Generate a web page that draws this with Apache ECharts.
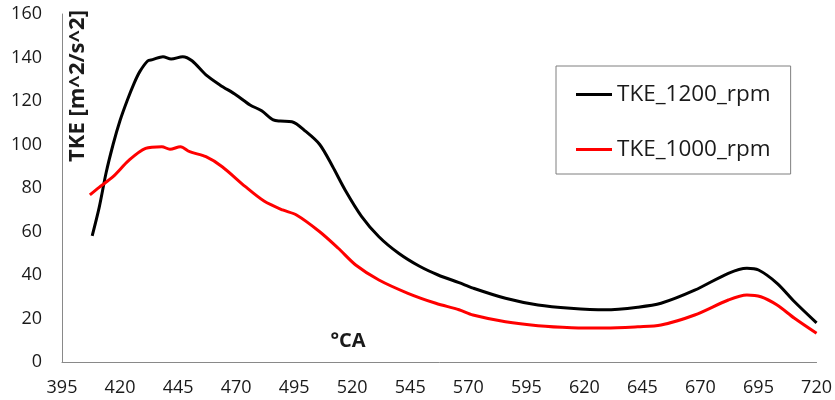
<!DOCTYPE html>
<html>
<head>
<meta charset="utf-8">
<script src="https://cdn.jsdelivr.net/npm/echarts@6/dist/echarts.min.js"></script>
<style>
html,body{margin:0;padding:0;background:#fff;}
#chart{width:835px;height:400px;}
</style>
</head>
<body>
<div id="chart"></div>
<script>
const seriesNames = ['TKE_1200_rpm', 'TKE_1000_rpm'];
const xTicks = [395, 420, 445, 470, 495, 520, 545, 570, 595, 620, 645, 670, 695, 720];
const yTicks = [0, 20, 40, 60, 80, 100, 120, 140, 160];

const ca1200 = [408, 411, 414, 417, 420, 423, 426, 428.5, 432, 434, 438.5, 442, 447, 451, 457, 463, 470, 476, 481, 486, 489, 494, 500, 506, 511.5, 517, 524, 531.5, 540, 549, 557, 566, 572, 586, 600, 614, 629, 643, 653, 667.5, 682, 690, 695, 703, 710.5, 720];
const tke1200 = [58, 71, 87, 100, 111, 120, 128, 133.5, 138.5, 139, 140.4, 139.3, 140.4, 138.5, 132, 127.4, 122.8, 118.2, 115.5, 111.3, 110.8, 110.5, 106, 100, 90, 79, 67, 57.6, 50, 44, 40, 36.5, 34, 29.3, 26.2, 24.7, 24, 25.2, 27, 33, 40.8, 43.1, 42.3, 36.2, 27.7, 18];

const ca1000 = [407, 411, 417, 424, 431, 438, 441.5, 446, 450, 457, 464, 474, 482, 490, 496, 506, 514, 521.5, 531.5, 544, 556, 566, 572, 586, 600, 614.5, 629, 643, 653, 667.5, 682, 690, 696, 703, 710.5, 720];
const tke1000 = [76.8, 80.3, 85.2, 92.9, 98.2, 99, 97.8, 99, 96.7, 94.4, 89.8, 80.6, 74, 69.9, 67.6, 59.9, 52.3, 44.6, 37.7, 31.6, 27, 24, 21.6, 18.5, 16.7, 15.8, 15.6, 16.2, 17, 21.6, 28.5, 30.8, 30, 26.2, 20.1, 13.2];

const pairs = (xs, ys) => xs.map((x, i) => [x, ys[i]]);
const FONT = '"Open Sans", "DejaVu Sans", sans-serif';

const chart = echarts.init(document.getElementById('chart'), null, {renderer: 'canvas'});
chart.setOption({
  animation: false,
  backgroundColor: '#ffffff',
  grid: {left: 62, right: 16, top: 14, bottom: 38, containLabel: false},
  xAxis: {
    type: 'value',
    min: xTicks[0],
    max: xTicks[xTicks.length - 1],
    interval: xTicks[1] - xTicks[0],
    axisLine: {show: true, onZero: false, lineStyle: {color: '#898989', width: 1}},
    axisTick: {show: false},
    splitLine: {show: false},
    axisLabel: {color: '#1a1a1a', fontSize: 18, fontFamily: FONT, margin: 17}
  },
  yAxis: {
    type: 'value',
    min: yTicks[0],
    max: yTicks[yTicks.length - 1],
    interval: yTicks[1] - yTicks[0],
    axisLine: {show: true, lineStyle: {color: '#898989', width: 1}},
    axisTick: {show: false},
    splitLine: {show: false},
    axisLabel: {color: '#1a1a1a', fontSize: 18, fontFamily: FONT, margin: 20}
  },
  legend: {
    orient: 'vertical',
    left: 556,
    top: 66,
    padding: [17, 20, 13, 20],
    itemGap: 32,
    itemWidth: 36,
    itemHeight: 3,
    icon: 'rect',
    borderColor: '#7f7f7f',
    borderWidth: 1,
    borderRadius: 0,
    textStyle: {color: '#1a1a1a', fontSize: 22.5, fontFamily: FONT},
    data: seriesNames
  },
  graphic: [
    {
      type: 'text',
      x: 78, y: 86,
      rotation: Math.PI / 2,
      style: {text: 'TKE [m^2/s^2]', fill: '#1a1a1a', font: 'bold 22px ' + FONT, textAlign: 'center', textVerticalAlign: 'middle'}
    },
    {
      type: 'text',
      x: 348, y: 341,
      style: {text: '°CA', fill: '#1a1a1a', font: 'bold 20px ' + FONT, textAlign: 'center', textVerticalAlign: 'middle'}
    }
  ],
  series: [
    {
      name: seriesNames[0],
      type: 'line',
      data: pairs(ca1200, tke1200),
      showSymbol: false,
      symbol: 'none',
      smooth: 0.3,
      itemStyle: {color: '#000000'},
      lineStyle: {color: '#000000', width: 3}
    },
    {
      name: seriesNames[1],
      type: 'line',
      data: pairs(ca1000, tke1000),
      showSymbol: false,
      symbol: 'none',
      smooth: 0.3,
      itemStyle: {color: '#ff0000'},
      lineStyle: {color: '#ff0000', width: 3}
    }
  ]
});
</script>
</body>
</html>
